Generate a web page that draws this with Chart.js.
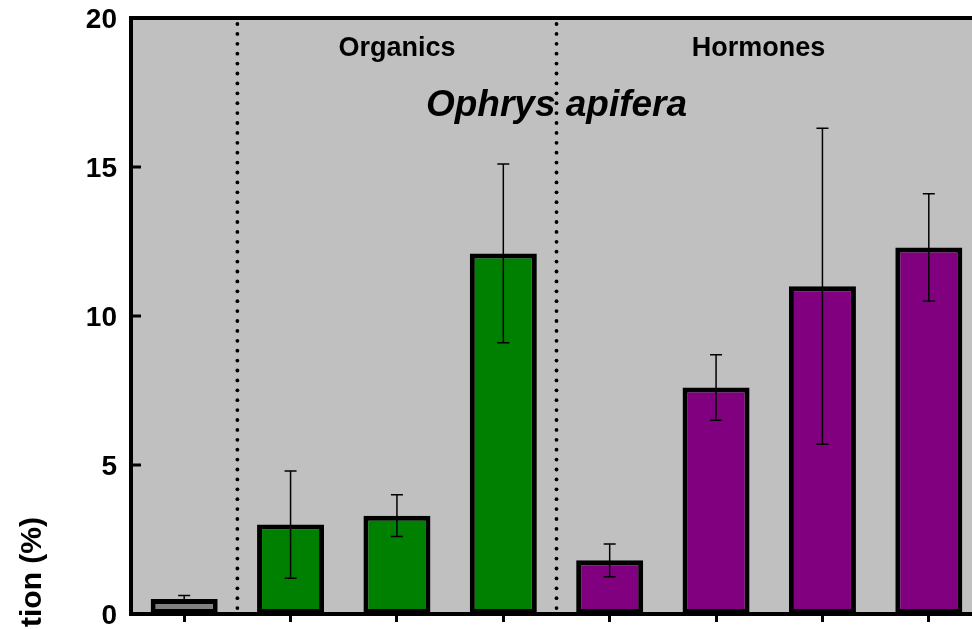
<!DOCTYPE html>
<html>
<head>
  <title>Ophrys apifera</title>
  <script src="https://cdn.jsdelivr.net/npm/chart.js"></script>
  <style>
    html, body { margin: 0; padding: 0; background: #fff; overflow: hidden; }
    #wrap { width: 984px; height: 629px; }
  </style>
</head>
<body>
  <div id="wrap">
    <canvas id="ophrysChart"></canvas>
  </div>

  <script>
    // values
    const treatments = ['Control', 'Organic 1', 'Organic 2', 'Organic 3', 'Hormone 1', 'Hormone 2', 'Hormone 3', 'Hormone 4'];
    const meanValues = [0.5, 3.0, 3.3, 12.1, 1.8, 7.6, 11.0, 12.3];
    const errorValues = [0.12, 1.8, 0.7, 3.0, 0.55, 1.1, 5.3, 1.8];
    const barColors = ['#808080', '#008000', '#008000', '#008000', '#800080', '#800080', '#800080', '#800080'];
    const yTicks = [0, 5, 10, 15, 20];
    const groupNames = ['Organics', 'Hormones'];
    const groupCenters = [2, 5.4];      // category index where each group label sits
    const separatorsAfter = [0, 3];     // dotted line after these categories
    const speciesName = 'Ophrys apifera';
    const yTitle = 'tion (%)';

    const FONT = '"Liberation Sans", Arial, sans-serif';

    // grey plot background
    const plotBackground = {
      id: 'plotBackground',
      beforeDraw(chart) {
        const { ctx, chartArea: a } = chart;
        ctx.save();
        ctx.fillStyle = '#c0c0c0';
        ctx.fillRect(a.left, a.top, a.right - a.left, a.bottom - a.top);
        ctx.restore();
      }
    };

    // dotted separators, error bars, frame, texts
    const decorations = {
      id: 'decorations',
      beforeDatasetsDraw(chart) {
        const { ctx, chartArea: a, scales: { x } } = chart;
        ctx.save();
        ctx.fillStyle = '#000';
        separatorsAfter.forEach(i => {
          const px = (x.getPixelForValue(i) + x.getPixelForValue(i + 1)) / 2;
          for (let y = a.top + 6; y < a.bottom - 4; y += 9.9) {
            ctx.beginPath();
            ctx.arc(px, y, 1.9, 0, Math.PI * 2);
            ctx.fill();
          }
        });
        ctx.restore();
      },
      afterDatasetsDraw(chart) {
        const { ctx, chartArea: a, scales: { x, y } } = chart;
        ctx.save();

        // error bars
        ctx.strokeStyle = '#000';
        ctx.lineWidth = 1.5;
        meanValues.forEach((v, i) => {
          const px = x.getPixelForValue(i);
          const top = y.getPixelForValue(v + errorValues[i]);
          const bot = y.getPixelForValue(v - errorValues[i]);
          ctx.beginPath();
          ctx.moveTo(px, top); ctx.lineTo(px, bot);
          ctx.moveTo(px - 6, top); ctx.lineTo(px + 6, top);
          ctx.moveTo(px - 6, bot); ctx.lineTo(px + 6, bot);
          ctx.stroke();
        });

        // frame
        ctx.lineWidth = 4;
        ctx.strokeRect(a.left, a.top, a.right - a.left, a.bottom - a.top);

        // inward ticks and labels on y axis
        ctx.lineWidth = 3;
        ctx.fillStyle = '#000';
        ctx.font = 'bold 28px ' + FONT;
        ctx.textAlign = 'right';
        ctx.textBaseline = 'middle';
        yTicks.forEach(t => {
          const py = y.getPixelForValue(t);
          ctx.beginPath();
          ctx.moveTo(a.left, py); ctx.lineTo(a.left + 10, py);
          ctx.stroke();
          ctx.fillText(String(t), a.left - 14, py + 2);
        });

        // group labels
        ctx.textAlign = 'center';
        ctx.font = 'bold 27px ' + FONT;
        groupNames.forEach((g, i) => {
          ctx.fillText(g, x.getPixelForValue(groupCenters[i]), a.top + 31);
        });

        // species title
        ctx.font = 'italic bold 37px ' + FONT;
        const mid = (x.getPixelForValue(3) + x.getPixelForValue(4)) / 2;
        ctx.fillText(speciesName, mid, a.top + 88);
        ctx.restore();

        // y axis title (cut off by the picture edge)
        ctx.save();
        ctx.translate(33, 517);
        ctx.rotate(-Math.PI / 2);
        ctx.textAlign = 'right';
        ctx.textBaseline = 'middle';
        ctx.fillStyle = '#000';
        ctx.font = 'bold 30px ' + FONT;
        ctx.fillText(yTitle, 0, 0);
        ctx.restore();
      }
    };

    new Chart(document.getElementById('ophrysChart'), {
      type: 'bar',
      data: {
        labels: treatments,
        datasets: [{
          data: meanValues,
          backgroundColor: barColors,
          borderColor: '#000',
          borderWidth: 5,
          borderSkipped: false,
          barPercentage: 0.63,
          categoryPercentage: 1.0
        }]
      },
      options: {
        responsive: true,
        maintainAspectRatio: false,
        animation: false,
        layout: { padding: { top: 18, right: 2, left: 0, bottom: 0 } },
        plugins: {
          legend: { display: false },
          tooltip: { enabled: false }
        },
        scales: {
          x: {
            grid: {
              display: true,
              drawOnChartArea: false,
              drawTicks: true,
              tickLength: 8,
              tickWidth: 3,
              tickColor: '#000',
              offset: false
            },
            border: { display: false },
            ticks: { display: false },
            afterFit(scale) { scale.height = 15; }
          },
          y: {
            min: 0,
            max: 20,
            afterBuildTicks(scale) { scale.ticks = yTicks.map(v => ({ value: v })); },
            grid: { display: false },
            border: { display: false },
            ticks: { display: false },
            afterFit(scale) { scale.width = 131; }
          }
        }
      },
      plugins: [plotBackground, decorations]
    });
  </script>
</body>
</html>
